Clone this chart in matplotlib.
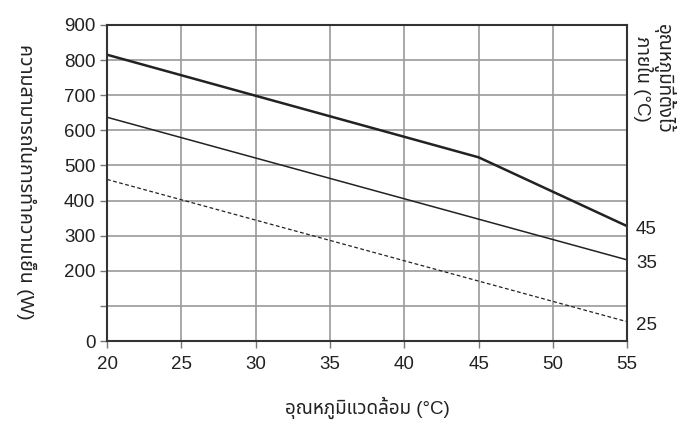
import matplotlib
matplotlib.use("Agg")
import matplotlib.pyplot as plt

plt.rcParams['font.family'] = ['Liberation Sans', 'Noto Sans Thai', 'Noto Sans', 'DejaVu Sans']

# ambient temperature (x) and cooling capacity (W) per set room temperature
temp_45 = [20, 45, 55]
cap_45 = [815, 523, 327]
temp_35 = [20, 55]
cap_35 = [637, 231]
temp_25 = [20, 55]
cap_25 = [460, 55]

set_labels = ['45', '35', '25']
y_ticks = [0, 100, 200, 300, 400, 500, 600, 700, 800, 900]
y_ticklabels = ['0', '', '200', '300', '400', '500', '600', '700', '800', '900']
x_ticks = [20, 25, 30, 35, 40, 45, 50, 55]

fig = plt.figure(figsize=(7, 4.29), dpi=100)
ax = fig.add_axes([0.153, 0.205, 0.743, 0.737])

line_col = '#222222'
ax.plot(temp_45, cap_45, color=line_col, lw=1.8)
ax.plot(temp_35, cap_35, color=line_col, lw=1.1)
ax.plot(temp_25, cap_25, color=line_col, lw=0.9, ls=(0, (3, 2)))

ax.set_xlim(20, 55)
ax.set_ylim(0, 900)
ax.set_xticks(x_ticks)
ax.set_yticks(y_ticks)
ax.set_yticklabels(y_ticklabels)
ax.grid(True, color='#9a9a9a', lw=1.2)
ax.set_axisbelow(True)
ax.tick_params(axis='both', labelsize=13.5, color='#777777', length=5, width=1, direction='out', labelcolor='#222222')
ax.tick_params(axis='x', pad=6)
for s in ax.spines.values():
    s.set_color('#333333')
    s.set_linewidth(1.5)

# end-of-line labels
for lab, y in zip(set_labels, [cap_45[-1], cap_35[-1], cap_25[-1]]):
    ax.text(55.6, y - 10, lab, fontsize=13.5, va='center', ha='left', color='#222222')

ax.set_xlabel('อุณหภูมิแวดล้อม (°C)', fontsize=13.5, color='#222222', va='center')
ax.xaxis.set_label_coords(0.5, -0.21)
ax.set_ylabel('ความสามารถในการทำความเย็น (W)', fontsize=14, rotation=270, color='#222222',
              va='center', ha='center')
ax.yaxis.set_label_coords(-0.155, 0.505)

fig.text(0.935, 0.815, 'อุณหภูมิที่ตั้งไว้\nภายใน (°C)', fontsize=13.5, rotation=270,
         ha='center', va='center', color='#222222', linespacing=1.0)

fig.savefig('out.png', dpi=100)
